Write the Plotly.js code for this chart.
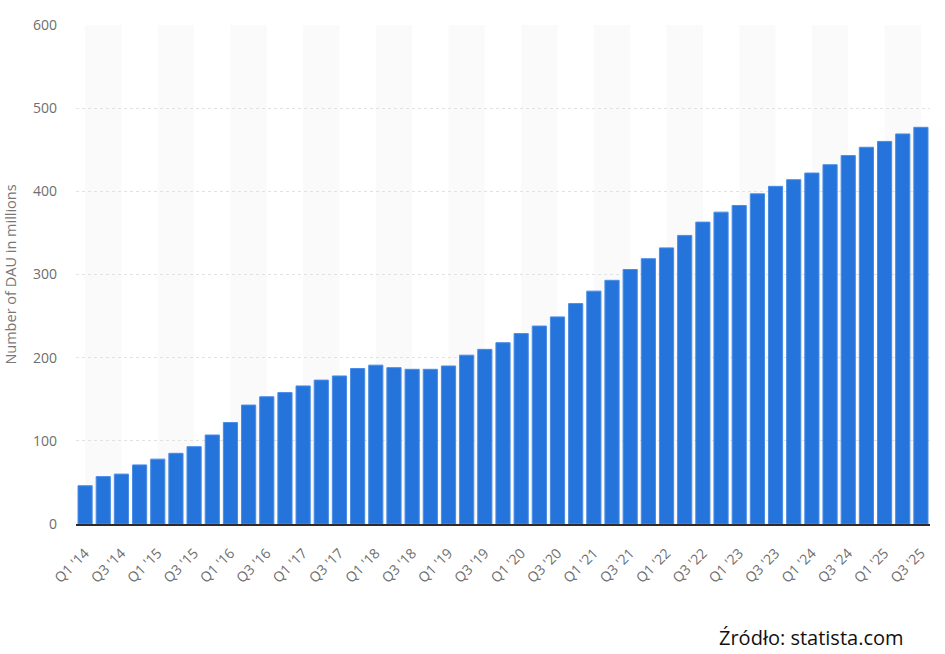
<!DOCTYPE html>
<html>
<head>
<meta charset="utf-8">
<script src="https://cdn.plot.ly/plotly-3.0.1.min.js"></script>
<style>html,body{margin:0;padding:0;background:#fff;}#chart{width:945px;height:654px;}</style>
</head>
<body>
<div id="chart"></div>
<script>
const quarters = ["Q1","Q2","Q3","Q4"];
const years = ["14","15","16","17","18","19","20","21","22","23","24","25"];
const categories = [];
years.forEach(y => quarters.forEach(q => categories.push(q + " '" + y)));
categories.splice(47); // data ends at Q3 '25

const dauMillions = [46, 57, 60, 71, 78, 85, 93, 107,
  122, 143, 153, 158, 166, 173, 178, 187,
  191, 188, 186, 186, 190, 203, 210, 218,
  229, 238, 249, 265, 280, 293, 306, 319,
  332, 347, 363, 375, 383, 397, 406, 414,
  422, 432, 443, 453, 460, 469, 477];

const tickLabels = categories.filter((c, i) => i % 2 === 0);

const yTitle = "Number of DAU in millions";
const sourceText = "Źródło: statista.com";

const shapes = [];
for (let i = 0; i < categories.length - 1; i += 4) {
  shapes.push({type: 'rect', xref: 'x', yref: 'paper', x0: i, x1: i + 2, y0: 0, y1: 1,
    fillcolor: '#fafafa', line: {width: 0}, layer: 'below'});
}

const trace = {
  type: 'bar',
  x: categories,
  y: dauMillions,
  marker: {color: '#2574dc', line: {color: '#4a8ce6', width: 1}},
  hoverinfo: 'x+y'
};

const layout = {
  width: 945, height: 654,
  margin: {l: 76, r: 15, t: 25, b: 130},
  paper_bgcolor: '#fff', plot_bgcolor: 'rgba(0,0,0,0)',
  bargap: 0.22,
  showlegend: false,
  font: {family: 'Open Sans, sans-serif', color: '#666'},
  xaxis: {
    type: 'category',
    tickmode: 'array', tickvals: tickLabels, ticktext: tickLabels,
    tickangle: -45, tickfont: {size: 14, color: '#6e6e6e'},
    showgrid: false, showline: true, linecolor: '#2b2b2b', linewidth: 1.5,
    ticks: '', ticklabelstandoff: 14,
    range: [-0.5, categories.length - 0.5]
  },
  yaxis: {
    range: [0, 600], tickvals: [0,100,200,300,400,500,600],
    tickfont: {size: 14, color: '#6e6e6e'},
    showgrid: true, gridcolor: '#e2e2e2', griddash: 'dot', gridwidth: 1,
    zeroline: false, ticks: '', ticklabelstandoff: 18,
    title: {text: yTitle, font: {size: 14.5, color: '#777'}, standoff: 12}
  },
  shapes: shapes,
  annotations: [{
    text: sourceText, xref: 'paper', yref: 'paper', x: 1, y: 0,
    xanchor: 'right', yanchor: 'middle', yshift: -113, xshift: -24,
    showarrow: false, font: {family: 'Open Sans, sans-serif', size: 20, color: '#111'}
  }]
};

Plotly.newPlot('chart', [trace], layout, {displayModeBar: false, staticPlot: true});
</script>
</body>
</html>
